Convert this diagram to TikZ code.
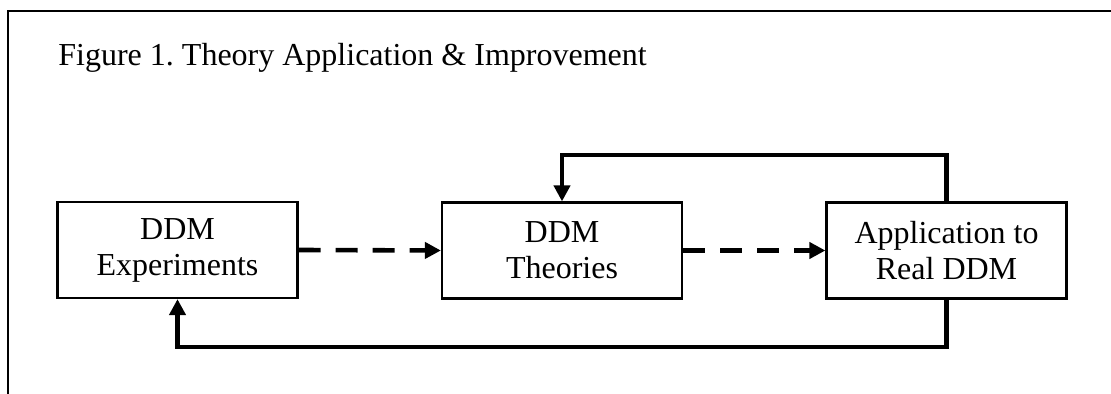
\documentclass[tikz,border=0pt]{standalone}
\usepackage{fontspec}
\setmainfont{Liberation Serif}
\usetikzlibrary{arrows.meta}
\frenchspacing
\begin{document}
\begin{tikzpicture}[x=0.5pt,y=-0.5pt,
  stagebox/.style={draw,line width=1.1pt,minimum width=120pt,minimum height=48pt,
    align=center,inner sep=0pt,font=\fontsize{16}{18}\selectfont},
  flow/.style={line width=2.3pt,-{Triangle[length=8pt,width=8pt]}},
  dashflow/.style={flow,dash pattern=on 11pt off 7.5pt},
  frame/.style={line width=1.1pt}]
  \useasboundingbox (0,0) rectangle (1111,394);
  % open frame: top and left edges
  \draw[frame] (1111,11) -- (8,11) -- (8,394);
  \node[anchor=base west,font=\fontsize{16}{18}\selectfont,inner sep=0pt] (title) at (58,66)
    {Figure 1. Theory Application \& Improvement};
  % stages
  \node[stagebox] (exp) at (177.5,250) {DDM\\Experiments};
  \node[stagebox] (theo) at (562,250.5) {DDM\\Theories};
  \node[stagebox] (app) at (946.5,250.5) {Application to\\Real DDM};
  % forward flow
  \draw[dashflow] (exp.east) -- (theo.west);
  \draw[dashflow] (theo.east) -- (app.west);
  % feedback loops
  \coordinate (topR) at (946.5,155);
  \coordinate (topL) at (562,155);
  \coordinate (botR) at (946.5,347);
  \coordinate (botL) at (177.5,347);
  \draw[flow] (app.north) -- (topR) -- (topL) -- (theo.north);
  \draw[flow] (app.south) -- (botR) -- (botL) -- (exp.south);
\end{tikzpicture}
\end{document}
